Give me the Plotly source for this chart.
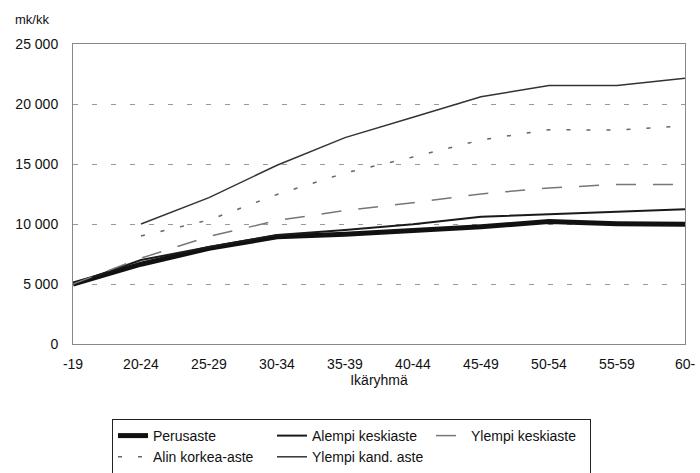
import plotly.graph_objects as go

categories = ["-19", "20-24", "25-29", "30-34", "35-39", "40-44", "45-49", "50-54", "55-59", "60-"]

perusaste = [5000, 6650, 7970, 8930, 9140, 9420, 9780, 10200, 10030, 9970]
alempi_keskiaste = [5000, 7000, 8080, 9080, 9500, 9970, 10600, 10800, 11000, 11220]
ylempi_keskiaste = [5000, 7150, 8960, 10290, 11125, 11775, 12500, 13000, 13300, 13300]
alin_korkea = [None, 9000, 10330, 12460, 14250, 15580, 17000, 17860, 17830, 18190]
ylempi_kand = [None, 10000, 12200, 14900, 17200, 18900, 20600, 21550, 21550, 22140]

y_tickvals = [0, 5000, 10000, 15000, 20000, 25000]
y_ticktext = ["0", "5 000", "10 000", "15 000", "20 000", "25 000"]

FONT = "Liberation Sans, Arial, sans-serif"

W, H = 700, 473
ML, MR, MT, MB = 73, 15, 44, 129

fig = go.Figure()
fig.add_trace(go.Scatter(x=categories, y=perusaste, name="Perusaste", mode="lines",
                         line=dict(color="#111111", width=5)))
fig.add_trace(go.Scatter(x=categories, y=alempi_keskiaste, name="Alempi keskiaste", mode="lines",
                         line=dict(color="#1a1a1a", width=2)))
fig.add_trace(go.Scatter(x=categories, y=ylempi_keskiaste, name="Ylempi keskiaste", mode="lines",
                         line=dict(color="#777777", width=1.5, dash="20px,17px")))
fig.add_trace(go.Scatter(x=categories, y=alin_korkea, name="Alin korkea-aste", mode="lines",
                         line=dict(color="#666666", width=1.5, dash="4px,16px")))
fig.add_trace(go.Scatter(x=categories, y=ylempi_kand, name="Ylempi kand. aste", mode="lines",
                         line=dict(color="#333333", width=1.5)))

pw = W - ML - MR
ph = H - MT - MB

fig.update_layout(
    width=W, height=H,
    margin=dict(l=ML, r=MR, t=MT, b=MB, autoexpand=False),
    paper_bgcolor="white", plot_bgcolor="white",
    font=dict(family=FONT, size=14, color="#111111"),
    showlegend=True,
    legend=dict(
        orientation="h", x=(112 - ML) / pw, xanchor="left",
        y=(344 - 419) / ph, yanchor="top",
        bordercolor="#222222", borderwidth=1, bgcolor="white",
        entrywidth=114, entrywidthmode="pixels",
        font=dict(family=FONT, size=14, color="#111111"),
        traceorder="normal", itemwidth=30,
    ),
    xaxis=dict(
        type="category", range=[0, 9],
        showline=True, mirror=True, linecolor="#888888", linewidth=1,
        showgrid=False, ticks="", tickfont=dict(size=14), ticklabelstandoff=7,
        title=dict(text="Ikäryhmä", font=dict(size=14), standoff=2),
    ),
    yaxis=dict(
        range=[0, 25000], tickvals=y_tickvals, ticktext=y_ticktext,
        showline=True, mirror=True, linecolor="#888888", linewidth=1,
        showgrid=True, gridcolor="#999999", gridwidth=1, griddash="5px,14px",
        zeroline=False, ticks="", ticklabelstandoff=11, tickfont=dict(size=14),
    ),
    annotations=[dict(text="mk/kk", x=(13 - ML) / pw, y=(MT + ph - 19) / ph,
                      xref="paper", yref="paper", xanchor="left", yanchor="middle",
                      showarrow=False, font=dict(size=13))],
)

fig.write_html("out.html",
               config={"displayModeBar": False},
               post_script="document.body.style.margin='0';document.body.style.overflow='hidden';")
